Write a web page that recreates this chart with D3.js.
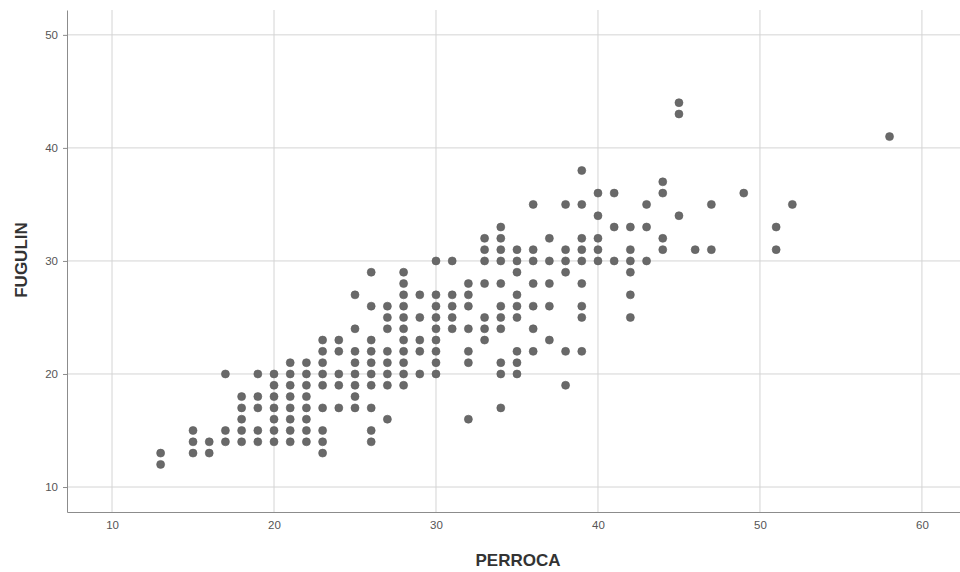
<!DOCTYPE html>
<html>
<head>
<meta charset="utf-8">
<script src="https://cdn.jsdelivr.net/npm/d3@7"></script>
<style>
  body { margin: 0; background: #fff; }
  .tick text { font-family: "Liberation Sans", Arial, sans-serif; font-size: 11.5px; fill: #555; }
  .axis-label { font-family: "Liberation Sans", Arial, sans-serif; font-size: 17px; font-weight: bold; fill: #333; }
</style>
</head>
<body>
<div id="chart"></div>
<script>
// PERROCA score per column, with the FUGULIN scores observed at that column
const perrocaValues = [13, 15, 16, 17, 18, 19, 20, 21, 22, 23, 24, 25, 26, 27, 28, 29, 30, 31, 32,
  33, 34, 35, 36, 37, 38, 39, 40, 41, 42, 43, 44, 45, 46, 47, 49, 51, 52, 58];
const fugulinByPerroca = [
  [13, 12],
  [15, 14, 13],
  [14, 13],
  [20, 15, 14],
  [18, 17, 16, 15, 14],
  [20, 18, 17, 15, 14],
  [20, 19, 18, 17, 16, 15, 14],
  [21, 20, 19, 18, 17, 16, 15, 14],
  [21, 20, 19, 18, 17, 16, 15, 14],
  [23, 22, 21, 20, 19, 17, 15, 14, 13],
  [23, 22, 20, 19, 17],
  [27, 24, 22, 21, 20, 19, 18, 17],
  [29, 26, 23, 22, 21, 20, 19, 17, 15, 14],
  [26, 25, 24, 22, 21, 20, 19, 16],
  [29, 28, 27, 26, 25, 24, 23, 22, 21, 20, 19],
  [27, 25, 23, 22, 20],
  [30, 27, 26, 25, 24, 23, 22, 21, 20],
  [30, 27, 26, 25, 24],
  [28, 27, 26, 24, 22, 21, 16],
  [32, 31, 30, 28, 25, 24, 23],
  [33, 32, 31, 30, 28, 26, 25, 24, 21, 20, 17],
  [31, 30, 29, 27, 26, 25, 22, 21, 20],
  [35, 31, 30, 28, 26, 24, 22],
  [32, 30, 28, 26, 23],
  [35, 31, 30, 29, 22, 19],
  [38, 35, 32, 31, 30, 28, 26, 25, 22],
  [36, 34, 32, 31, 30],
  [36, 33, 30],
  [33, 31, 30, 29, 27, 25],
  [35, 33, 30],
  [37, 36, 32, 31],
  [44, 43, 34],
  [31],
  [35, 31],
  [36],
  [33, 31],
  [35],
  [41]
];
const xTicks = [10, 20, 30, 40, 50, 60];
const yTicks = [10, 20, 30, 40, 50];

const points = perrocaValues.flatMap((p, i) =>
  fugulinByPerroca[i].map((f) => ({ perroca: p, fugulin: f })),
);

const width = 960;
const height = 572;
const margin = { top: 10, right: 0, bottom: 60, left: 67 };
const innerW = width - margin.left - margin.right;
const innerH = height - margin.top - margin.bottom;

const svg = d3
  .select("#chart")
  .append("svg")
  .attr("width", width)
  .attr("height", height);

const g = svg
  .append("g")
  .attr("transform", `translate(${margin.left},${margin.top})`);

const x = d3.scaleLinear().domain([7.22, 62.35]).range([0, innerW]);
const y = d3.scaleLinear().domain([7.79, 52.2]).range([innerH, 0]);

// gridlines
g.append("g")
  .selectAll("line")
  .data(xTicks)
  .join("line")
  .attr("x1", (d) => x(d))
  .attr("x2", (d) => x(d))
  .attr("y1", 0)
  .attr("y2", innerH)
  .attr("stroke", "#d4d4d4");

g.append("g")
  .selectAll("line")
  .data(yTicks)
  .join("line")
  .attr("x1", 0)
  .attr("x2", innerW)
  .attr("y1", (d) => y(d))
  .attr("y2", (d) => y(d))
  .attr("stroke", "#d4d4d4");

// axes
const xAxis = g
  .append("g")
  .attr("transform", `translate(0,${innerH})`)
  .call(d3.axisBottom(x).tickValues(xTicks).tickSize(0).tickPadding(9));
const yAxis = g
  .append("g")
  .call(d3.axisLeft(y).tickValues(yTicks).tickSize(4).tickSizeOuter(0).tickPadding(5));

[xAxis, yAxis].forEach((a) => {
  a.select(".domain").attr("stroke", "#8c8c8c");
  a.selectAll(".tick line").attr("stroke", "#8c8c8c");
});

// points
g.append("g")
  .selectAll("circle")
  .data(points)
  .join("circle")
  .attr("cx", (d) => x(d.perroca))
  .attr("cy", (d) => y(d.fugulin))
  .attr("r", 4)
  .attr("fill", "#696969")
  .attr("stroke", "#5e5e5e")
  .attr("stroke-width", 0.6);

svg
  .append("text")
  .attr("class", "axis-label")
  .attr("x", 518)
  .attr("y", 566)
  .attr("text-anchor", "middle")
  .text("PERROCA");

svg
  .append("text")
  .attr("class", "axis-label")
  .attr("transform", "translate(27,260) rotate(-90)")
  .attr("text-anchor", "middle")
  .text("FUGULIN");
</script>
</body>
</html>
